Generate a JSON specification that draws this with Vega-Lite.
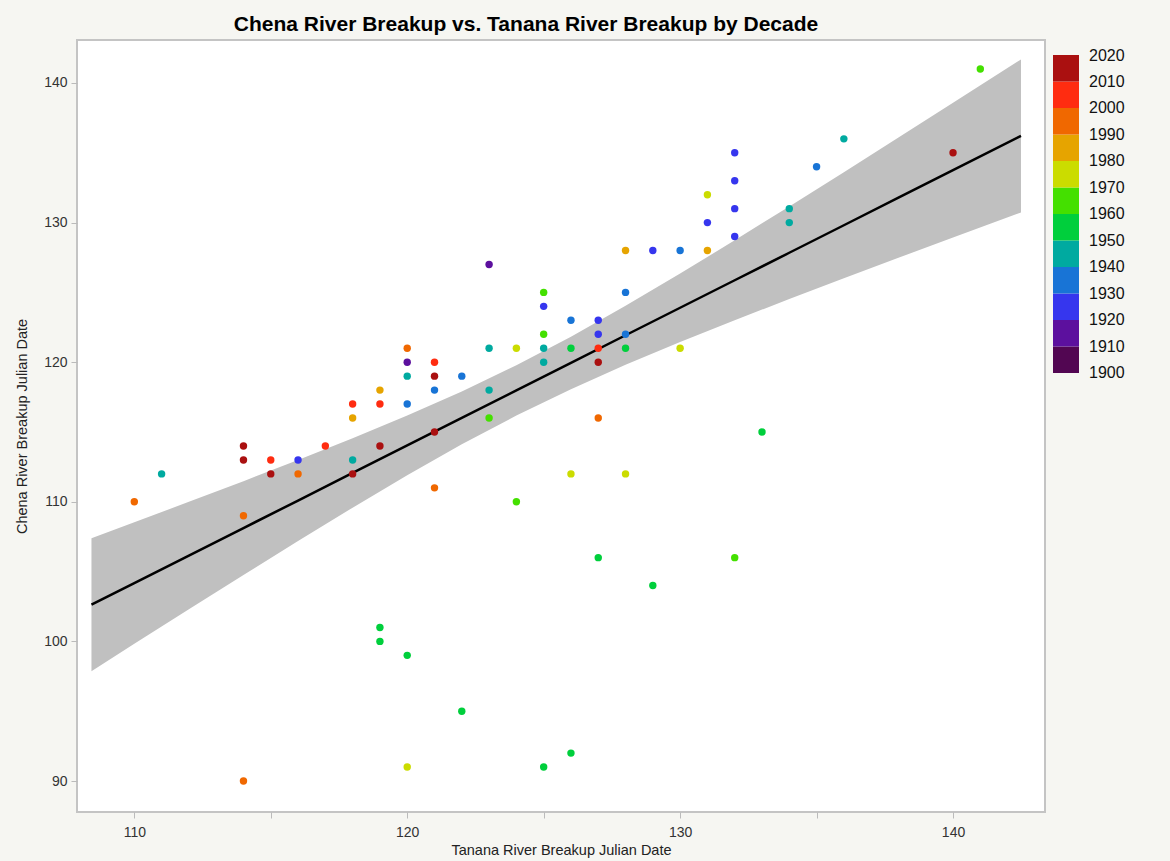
{
  "$schema": "https://vega.github.io/schema/vega-lite/v6.json",
  "autosize": {"type": "none"},
  "width": 968,
  "height": 772,
  "padding": {"left": 77, "top": 40, "right": 125, "bottom": 49},
  "background": "#f6f6f2",
  "title": {
    "text": "Chena River Breakup vs. Tanana River Breakup by Decade",
    "font": "Liberation Sans",
    "fontSize": 21,
    "fontWeight": "bold",
    "color": "#000000",
    "offset": 5,
    "dx": -35
  },
  "config": {
    "view": {"fill": "#ffffff", "stroke": "#c4c4c4", "strokeWidth": 2},
    "axis": {
      "labelFont": "Liberation Sans",
      "labelFontSize": 14,
      "labelColor": "#333333",
      "titleFont": "Liberation Sans",
      "titleFontSize": 14.5,
      "titleFontWeight": "normal",
      "titleColor": "#222222",
      "domain": false,
      "grid": false,
      "tickColor": "#bbbbbb",
      "tickSize": 6
    }
  },
  "datasets": {
    "fit": [
      {"x": 108.43, "fit": 102.63, "lo": 97.87, "hi": 107.39},
      {"x": 110, "fit": 104.18, "lo": 99.83, "hi": 108.53},
      {"x": 112, "fit": 106.15, "lo": 102.30, "hi": 110.00},
      {"x": 114, "fit": 108.12, "lo": 104.76, "hi": 111.48},
      {"x": 116, "fit": 110.09, "lo": 107.19, "hi": 112.99},
      {"x": 118, "fit": 112.07, "lo": 109.58, "hi": 114.56},
      {"x": 120, "fit": 114.04, "lo": 111.90, "hi": 116.18},
      {"x": 122, "fit": 116.01, "lo": 114.12, "hi": 117.90},
      {"x": 124, "fit": 117.98, "lo": 116.18, "hi": 119.78},
      {"x": 126, "fit": 119.95, "lo": 118.07, "hi": 121.83},
      {"x": 128, "fit": 121.93, "lo": 119.82, "hi": 124.04},
      {"x": 130, "fit": 123.90, "lo": 121.45, "hi": 126.35},
      {"x": 132, "fit": 125.87, "lo": 123.01, "hi": 128.73},
      {"x": 134, "fit": 127.84, "lo": 124.52, "hi": 131.16},
      {"x": 136, "fit": 129.81, "lo": 126.01, "hi": 133.61},
      {"x": 138, "fit": 131.79, "lo": 127.48, "hi": 136.10},
      {"x": 140, "fit": 133.76, "lo": 128.93, "hi": 138.59},
      {"x": 142.49, "fit": 136.21, "lo": 130.73, "hi": 141.69}
    ],
    "pts": [
      {"tanana": 110, "chena": 110, "year": 1995},
      {"tanana": 111, "chena": 112, "year": 1945},
      {"tanana": 114, "chena": 114, "year": 2015},
      {"tanana": 114, "chena": 113, "year": 2015},
      {"tanana": 114, "chena": 109, "year": 1995},
      {"tanana": 114, "chena": 90, "year": 1995},
      {"tanana": 115, "chena": 113, "year": 2005},
      {"tanana": 115, "chena": 112, "year": 2015},
      {"tanana": 116, "chena": 113, "year": 1925},
      {"tanana": 116, "chena": 112, "year": 1995},
      {"tanana": 117, "chena": 114, "year": 2005},
      {"tanana": 118, "chena": 117, "year": 2005},
      {"tanana": 118, "chena": 116, "year": 1985},
      {"tanana": 118, "chena": 113, "year": 1945},
      {"tanana": 118, "chena": 112, "year": 2015},
      {"tanana": 119, "chena": 118, "year": 1985},
      {"tanana": 119, "chena": 117, "year": 2005},
      {"tanana": 119, "chena": 114, "year": 2015},
      {"tanana": 119, "chena": 101, "year": 1955},
      {"tanana": 119, "chena": 100, "year": 1955},
      {"tanana": 120, "chena": 121, "year": 1995},
      {"tanana": 120, "chena": 120, "year": 1915},
      {"tanana": 120, "chena": 119, "year": 1945},
      {"tanana": 120, "chena": 117, "year": 1935},
      {"tanana": 120, "chena": 99, "year": 1955},
      {"tanana": 120, "chena": 91, "year": 1975},
      {"tanana": 121, "chena": 120, "year": 2005},
      {"tanana": 121, "chena": 119, "year": 2015},
      {"tanana": 121, "chena": 118, "year": 1935},
      {"tanana": 121, "chena": 115, "year": 2015},
      {"tanana": 121, "chena": 111, "year": 1995},
      {"tanana": 122, "chena": 119, "year": 1935},
      {"tanana": 122, "chena": 95, "year": 1955},
      {"tanana": 123, "chena": 127, "year": 1915},
      {"tanana": 123, "chena": 121, "year": 1945},
      {"tanana": 123, "chena": 118, "year": 1945},
      {"tanana": 123, "chena": 116, "year": 1965},
      {"tanana": 124, "chena": 121, "year": 1975},
      {"tanana": 124, "chena": 110, "year": 1965},
      {"tanana": 125, "chena": 125, "year": 1965},
      {"tanana": 125, "chena": 124, "year": 1925},
      {"tanana": 125, "chena": 122, "year": 1965},
      {"tanana": 125, "chena": 121, "year": 1945},
      {"tanana": 125, "chena": 120, "year": 1945},
      {"tanana": 125, "chena": 91, "year": 1955},
      {"tanana": 126, "chena": 123, "year": 1935},
      {"tanana": 126, "chena": 121, "year": 1955},
      {"tanana": 126, "chena": 112, "year": 1975},
      {"tanana": 126, "chena": 92, "year": 1955},
      {"tanana": 127, "chena": 123, "year": 1925},
      {"tanana": 127, "chena": 122, "year": 1925},
      {"tanana": 127, "chena": 121, "year": 2005},
      {"tanana": 127, "chena": 120, "year": 2015},
      {"tanana": 127, "chena": 116, "year": 1995},
      {"tanana": 127, "chena": 106, "year": 1955},
      {"tanana": 128, "chena": 128, "year": 1985},
      {"tanana": 128, "chena": 125, "year": 1935},
      {"tanana": 128, "chena": 122, "year": 1935},
      {"tanana": 128, "chena": 121, "year": 1955},
      {"tanana": 128, "chena": 112, "year": 1975},
      {"tanana": 129, "chena": 128, "year": 1925},
      {"tanana": 129, "chena": 104, "year": 1955},
      {"tanana": 130, "chena": 128, "year": 1935},
      {"tanana": 130, "chena": 121, "year": 1975},
      {"tanana": 131, "chena": 132, "year": 1975},
      {"tanana": 131, "chena": 130, "year": 1925},
      {"tanana": 131, "chena": 128, "year": 1985},
      {"tanana": 132, "chena": 135, "year": 1925},
      {"tanana": 132, "chena": 133, "year": 1925},
      {"tanana": 132, "chena": 131, "year": 1925},
      {"tanana": 132, "chena": 129, "year": 1925},
      {"tanana": 132, "chena": 106, "year": 1965},
      {"tanana": 133, "chena": 115, "year": 1955},
      {"tanana": 134, "chena": 131, "year": 1945},
      {"tanana": 134, "chena": 130, "year": 1945},
      {"tanana": 135, "chena": 134, "year": 1935},
      {"tanana": 136, "chena": 136, "year": 1945},
      {"tanana": 140, "chena": 135, "year": 2015},
      {"tanana": 141, "chena": 141, "year": 1965}
    ]
  },
  "layer": [
    {
      "data": {"name": "fit"},
      "mark": {"type": "area", "color": "#c0c0c0", "opacity": 1},
      "encoding": {
        "x": {"field": "x", "type": "quantitative"},
        "y": {"field": "lo", "type": "quantitative"},
        "y2": {"field": "hi"}
      }
    },
    {
      "data": {"name": "fit"},
      "mark": {"type": "line", "color": "#000000", "strokeWidth": 2.5},
      "encoding": {
        "x": {"field": "x", "type": "quantitative"},
        "y": {"field": "fit", "type": "quantitative"}
      }
    },
    {
      "data": {"name": "pts"},
      "mark": {"type": "point", "filled": true, "size": 55, "opacity": 1, "strokeWidth": 0},
      "encoding": {
        "x": {
          "field": "tanana",
          "type": "quantitative",
          "title": "Tanana River Breakup Julian Date",
          "scale": {"domain": [107.9, 143.37], "nice": false, "zero": false},
          "axis": {
            "values": [110, 115, 120, 125, 130, 135, 140],
            "labelExpr": "datum.value % 10 === 0 ? datum.label : ''",
            "labelPadding": 7,
            "titlePadding": 4
          }
        },
        "y": {
          "field": "chena",
          "type": "quantitative",
          "title": "Chena River Breakup Julian Date",
          "scale": {"domain": [87.78, 143.08], "nice": false, "zero": false},
          "axis": {
            "values": [90, 100, 110, 120, 130, 140],
            "labelPadding": 4,
            "titlePadding": 14
          }
        },
        "shape": {
          "datum": "1900",
          "scale": {"range": ["circle"]},
          "legend": {
            "title": null,
            "orient": "none",
            "legendX": 996,
            "legendY": 325,
            "padding": 0,
            "symbolSize": 0,
            "symbolOpacity": 0,
            "symbolStrokeWidth": 0,
            "labelOffset": 0,
            "labelFont": "Liberation Sans",
            "labelFontSize": 16,
            "labelColor": "#111111"
          }
        },
        "strokeDash": {
          "datum": "2020",
          "scale": {"range": [[1, 0]]},
          "legend": {
            "title": null,
            "orient": "none",
            "legendX": 996,
            "legendY": 8,
            "padding": 0,
            "symbolSize": 0,
            "symbolOpacity": 0,
            "symbolStrokeWidth": 0,
            "labelOffset": 0,
            "labelFont": "Liberation Sans",
            "labelFontSize": 16,
            "labelColor": "#111111"
          }
        },
        "color": {
          "field": "year",
          "type": "quantitative",
          "bin": {"extent": [1900, 2020], "step": 10},
          "scale": {
            "range": ["#520652", "#5c109e", "#3636ee", "#1874d6", "#00aaa0", "#00cf3c", "#44e000", "#cbdc00", "#e6a400", "#f06800", "#ff2c10", "#aa1010"]
          },
          "legend": {
            "type": "gradient",
            "title": null,
            "orient": "none",
            "legendX": 976,
            "legendY": 15,
            "direction": "vertical",
            "values": [1900, 1910, 1920, 1930, 1940, 1950, 1960, 1970, 1980, 1990, 2000, 2010, 2020],
            "labelExpr": "(datum.value >= 2020 || datum.value <= 1900) ? '' : format(datum.value, 'd')",
            "labelOverlap": false,
            "gradientLength": 318,
            "gradientThickness": 26,
            "gradientStrokeWidth": 0,
            "labelFont": "Liberation Sans",
            "labelFontSize": 16,
            "labelColor": "#111111",
            "labelOffset": 10
          }
        }
      }
    }
  ]
}
